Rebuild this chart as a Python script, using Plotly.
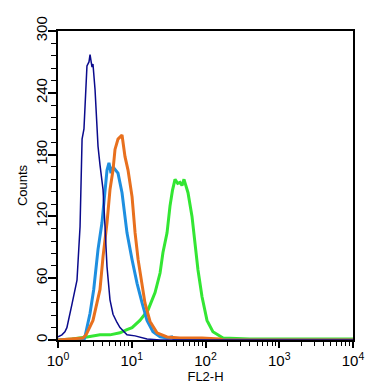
import plotly.graph_objects as go

# FL2-H values and counts
navy_x = [1.00, 1.13, 1.24, 1.32, 1.55, 1.81, 1.99, 2.12, 2.25, 2.40, 2.47, 2.63, 2.72, 2.89, 2.98, 3.18, 3.38, 3.49, 3.71, 4.08, 4.34, 4.62, 5.07, 5.57, 6.31, 6.93, 8.62, 11.1, 16.1, 24.2, 10000]
navy_y = [3, 5, 8, 12, 35, 58, 110, 195, 205, 240, 266, 270, 277, 265, 268, 243, 210, 188, 170, 146, 110, 71, 39, 25, 17, 12, 5, 4, 1, 0, 0]

blue_x = [1.00, 2.25, 2.32, 2.47, 2.72, 3.05, 3.49, 3.95, 4.20, 4.62, 4.91, 5.23, 5.57, 6.51, 7.38, 8.62, 10.1, 11.8, 13.8, 16.1, 19.4, 24.2, 30.1, 35.1, 38.6, 10000]
blue_y = [0, 0, 3, 12, 26, 49, 88, 114, 136, 165, 172, 162, 168, 162, 143, 104, 78, 55, 36, 19, 8, 3, 2, 3, 0, 0]

orange_x = [1.00, 2.18, 2.40, 2.98, 3.71, 4.08, 4.62, 5.07, 5.57, 5.93, 6.51, 7.38, 8.10, 8.90, 10.1, 11.1, 12.2, 13.8, 15.1, 17.7, 22.0, 30.1, 45.1, 89.7, 157, 173, 10000]
orange_y = [0, 2, 5, 19, 49, 81, 114, 146, 165, 185, 195, 199, 178, 165, 139, 104, 78, 55, 36, 18, 7, 3, 2, 2, 1, 0, 0]

green_x = [1.00, 1.55, 2.47, 3.71, 5.07, 6.93, 8.62, 10.1, 12.9, 16.6, 20.7, 24.2, 26.5, 30.1, 33.0, 35.6, 38.6, 42.0, 45.1, 48.0, 51.1, 57.9, 65.6, 72.1, 79.1, 89.7, 104.8, 126, 173, 398, 1000, 10000]
green_y = [0, 1, 3, 5, 5, 7, 10, 12, 19, 29, 46, 65, 85, 104, 130, 145, 156, 152, 153, 150, 156, 143, 120, 91, 68, 42, 19, 8, 2, 1, 1, 1]

tick_vals = [1, 10, 100, 1000, 10000]
tick_text = ["10<sup>0</sup>", "10<sup>1</sup>", "10<sup>2</sup>", "10<sup>3</sup>", "10<sup>4</sup>"]
y_ticks = [0, 60, 120, 180, 240, 300]

fig = go.Figure()
fig.add_trace(go.Scatter(x=green_x, y=green_y, mode="lines", line=dict(color="#33E633", width=3)))
fig.add_trace(go.Scatter(x=blue_x, y=blue_y, mode="lines", line=dict(color="#1E8FE0", width=3)))
fig.add_trace(go.Scatter(x=orange_x, y=orange_y, mode="lines", line=dict(color="#E8701E", width=3)))
fig.add_trace(go.Scatter(x=navy_x, y=navy_y, mode="lines", line=dict(color="#0A0A8C", width=1.5)))

fig.update_layout(
    width=385, height=388,
    margin=dict(l=58, r=32, t=31, b=48, autoexpand=False),
    paper_bgcolor="white", plot_bgcolor="white",
    showlegend=False,
    font=dict(family="Arial, Liberation Sans, sans-serif", size=14, color="black"),
)
fig.update_xaxes(
    type="log", range=[0, 4], automargin=False,
    tickvals=tick_vals, ticktext=tick_text,
    ticks="outside", ticklen=6, tickwidth=1.5, tickcolor="black",
    minor=dict(dtick="D1", ticks="outside", ticklen=4, tickwidth=1, tickcolor="black", showgrid=False),
    showline=True, linewidth=2, linecolor="black", mirror=True,
    showgrid=False, zeroline=False,
    title=dict(text="FL2-H", font=dict(size=13), standoff=0),
    tickfont=dict(size=15),
)
fig.update_yaxes(
    range=[0, 300], automargin=False,
    tickvals=y_ticks, tickangle=-90,
    ticks="outside", ticklen=8, tickwidth=1.5, tickcolor="black",
    ticklabelstandoff=-5,
    minor=dict(dtick=12, ticks="outside", ticklen=5, tickwidth=1, tickcolor="black", showgrid=False),
    showline=True, linewidth=2, linecolor="black", mirror=True,
    showgrid=False, zeroline=False,
    title=dict(text="Counts", font=dict(size=13), standoff=2),
    tickfont=dict(size=15),
)

fig.write_html("out.html", post_script="document.body.style.margin='0px';",
               config={"displayModeBar": False})
